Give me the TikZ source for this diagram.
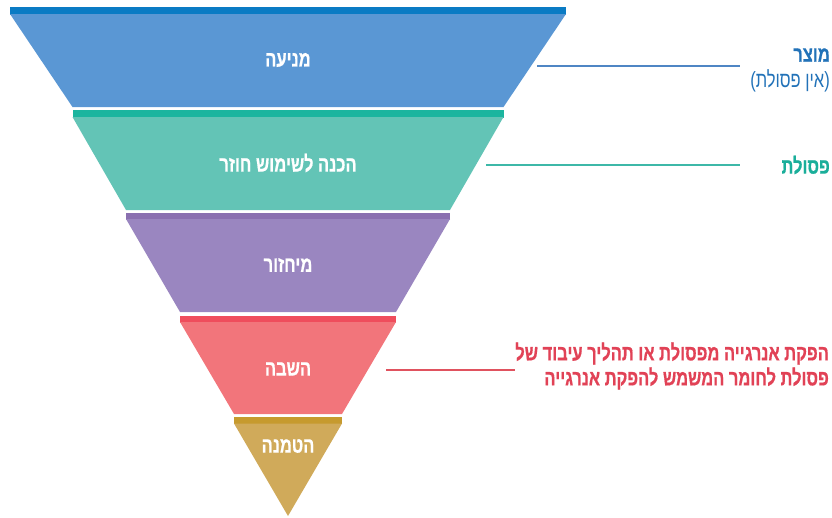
\documentclass[tikz,border=0pt]{standalone}
\usepackage{fontspec}
\TeXXeTstate=1
\newfontfamily\heb[Script=Hebrew,FakeStretch=0.75,BoldFeatures={FakeBold=0.6}]{Liberation Sans}
\definecolor{bluebar}{HTML}{0A7BC4}
\definecolor{bluefill}{HTML}{5A97D4}
\definecolor{tealbar}{HTML}{1BB59F}
\definecolor{tealfill}{HTML}{63C4B6}
\definecolor{purpbar}{HTML}{8A70B0}
\definecolor{purpfill}{HTML}{9A86C0}
\definecolor{redbar}{HTML}{EF4D5C}
\definecolor{redfill}{HTML}{F2757B}
\definecolor{goldbar}{HTML}{C69A2E}
\definecolor{goldfill}{HTML}{D0AA5A}
\definecolor{bluetxt}{HTML}{2272B8}
\definecolor{bluelin}{HTML}{4F86C4}
\definecolor{tealtxt}{HTML}{1AAE9A}
\definecolor{teallin}{HTML}{3DB8A8}
\definecolor{redtxt}{HTML}{E14256}
\definecolor{redlin}{HTML}{E0525F}
\tikzset{
  inlabel/.style={text=white,inner sep=0pt,font=\heb\bfseries\fontsize{22}{25}\selectfont},
  sidelabel/.style={inner sep=0pt,anchor=east,font=\heb\bfseries\fontsize{22}{25}\selectfont},
  connector/.style={line width=1.4pt},
}
\begin{document}
\begin{tikzpicture}[x=1pt,y=-1pt]
\useasboundingbox (0,0) rectangle (832,517);
% band 0
\fill[bluebar] (10,7) rectangle (566,14.5);
\fill[bluefill] (10,14) -- (566,14) -- (503.5,107) -- (72.5,107) -- cycle;
% band 1
\fill[tealbar] (72.5,110) rectangle (503.5,117.5);
\fill[tealfill] (72.5,117) -- (503.5,117) -- (450,210) -- (126,210) -- cycle;
% band 2
\fill[purpbar] (126,213) rectangle (450,219.5);
\fill[purpfill] (126,219) -- (450,219) -- (396,312) -- (180,312) -- cycle;
% band 3
\fill[redbar] (180,315.5) rectangle (396,322.5);
\fill[redfill] (180,322) -- (396,322) -- (342,414) -- (234,414) -- cycle;
% band 4
\fill[goldbar] (234,417) rectangle (342,424);
\fill[goldfill] (234,423.5) -- (342,423.5) -- (288,516) -- cycle;
% inner labels
\node[inlabel] (l0) at (288,60) {\beginR מניעה\endR};
\node[inlabel] (l1) at (288,163) {\beginR הכנה לשימוש חוזר\endR};
\node[inlabel] (l2) at (288,265) {\beginR מיחזור\endR};
\node[inlabel] (l3) at (288,369) {\beginR השבה\endR};
\node[inlabel] (l4) at (288,446) {\beginR הטמנה\endR};
% side labels
\node[sidelabel,text=bluetxt] (s1) at (830,55) {\beginR מוצר\endR};
\node[sidelabel,text=bluetxt,font=\heb\fontsize{22}{25}\selectfont] (s1b) at (830,81) {)\beginR אין פסולת\endR(};
\node[sidelabel,text=tealtxt] (s2) at (830,165) {\beginR פסולת\endR};
\node[sidelabel,text=redtxt,align=right] (s3) at (829,366) {\beginR הפקת אנרגייה מפסולת או תהליך עיבוד של\endR\\\beginR פסולת לחומר המשמש להפקת אנרגייה\endR};
% connectors
\coordinate (c1a) at (537,66);
\coordinate (c1b) at (740,66);
\coordinate (c2a) at (486,165);
\coordinate (c2b) at (740,165);
\coordinate (c3a) at (386,370);
\coordinate (c3b) at (515,370);
\draw[connector,bluelin] (c1a) -- (c1b);
\draw[connector,teallin] (c2a) -- (c2b);
\draw[connector,redlin] (c3a) -- (c3b);
\end{tikzpicture}
\end{document}
